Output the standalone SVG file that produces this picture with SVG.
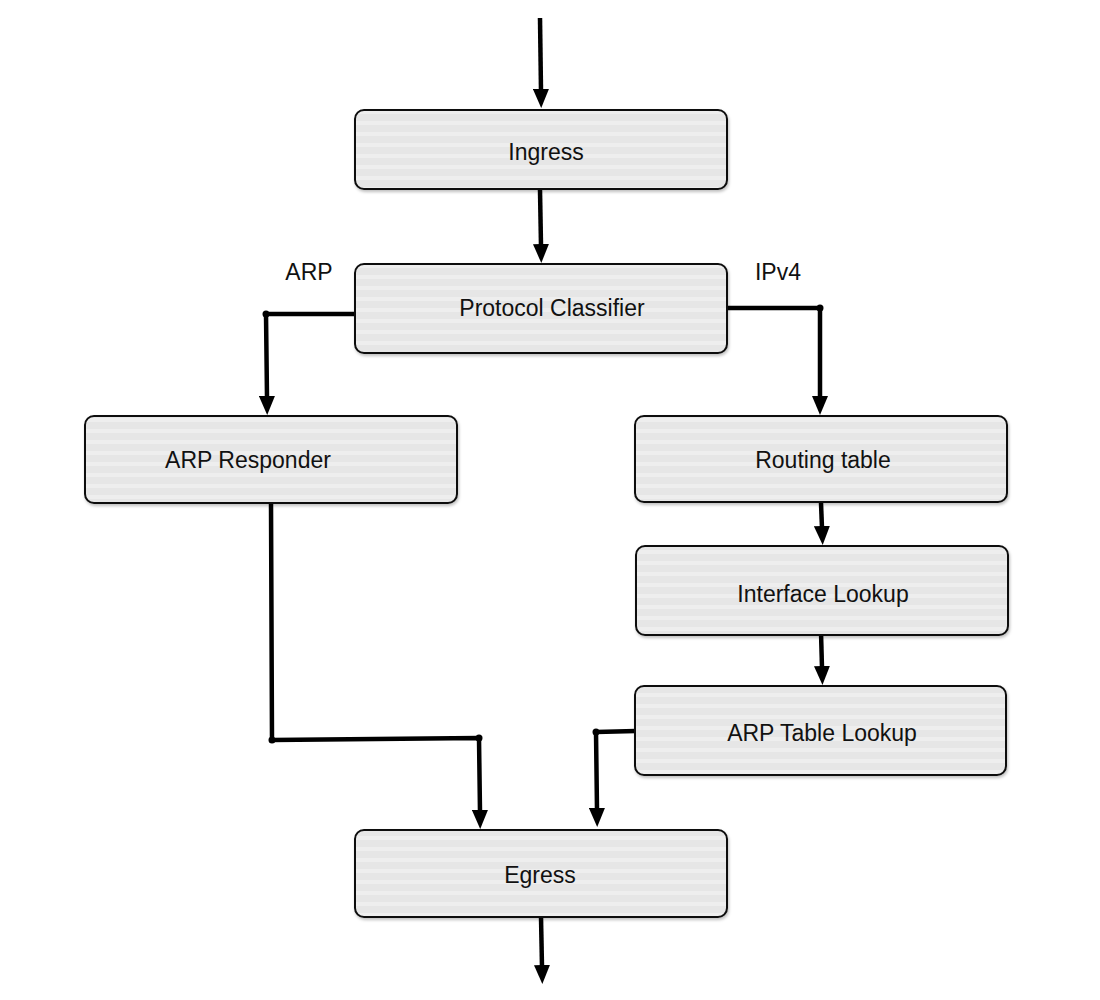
<svg xmlns="http://www.w3.org/2000/svg" width="1100" height="1000" viewBox="0 0 1100 1000">
<style>
.box{fill:url(#stripes);stroke:#111;stroke-width:2;filter:url(#sh)}
.lbl{font-family:"Liberation Sans",Arial,sans-serif;font-size:23px;fill:#111;text-anchor:middle;dominant-baseline:central}
.edge{fill:none;stroke:#000;stroke-width:4.5;stroke-linejoin:round}
.dot{fill:#000}
</style>
<defs>
<pattern id="stripes" patternUnits="userSpaceOnUse" width="40" height="11">
<rect width="40" height="11" fill="#e6e6e6"/>
<rect y="0" width="40" height="4" fill="#eeeeee"/>
</pattern>
<filter id="sh" x="-5%" y="-10%" width="110%" height="130%">
<feDropShadow dx="1" dy="2" stdDeviation="1.5" flood-color="#000" flood-opacity="0.25"/>
</filter>
<marker id="ah" markerWidth="19" markerHeight="16" refX="2" refY="8" orient="auto" markerUnits="userSpaceOnUse" viewBox="0 0 19 16">
<path d="M0,0 L19,8 L0,16 Z" fill="#000"/>
</marker>
</defs>
<rect width="1100" height="1000" fill="#fff"/>
<g id="connectors">
<path class="edge" d="M540,18 L541,91" marker-end="url(#ah)"/>
<path class="edge" d="M540,190 L541,246" marker-end="url(#ah)"/>
<path class="edge" d="M357,314 L266,314 L267,398" marker-end="url(#ah)"/>
<circle class="dot" cx="266" cy="314" r="3.5"/>
<path class="edge" d="M727,308 L820,308 L820,398" marker-end="url(#ah)"/>
<circle class="dot" cx="820" cy="308" r="3.5"/>
<path class="edge" d="M821,503 L822,528" marker-end="url(#ah)"/>
<path class="edge" d="M821,632 L822,668" marker-end="url(#ah)"/>
<path class="edge" d="M271,503 L272,740 L479,738 L480,812" marker-end="url(#ah)"/>
<circle class="dot" cx="272" cy="740" r="3.5"/>
<circle class="dot" cx="479" cy="738" r="3.5"/>
<path class="edge" d="M636,731 L596,732 L597,810" marker-end="url(#ah)"/>
<circle class="dot" cx="596" cy="732" r="3.5"/>
<path class="edge" d="M541,917 L542,967" marker-end="url(#ah)"/>
<text class="lbl" x="309" y="272">ARP</text>
<text class="lbl" x="778" y="272">IPv4</text>
</g>
<g id="ingress">
<rect class="box" x="355" y="110" width="372" height="79" rx="9"/>
<text class="lbl" x="546" y="152">Ingress</text>
</g>
<g id="protocol-classifier">
<rect class="box" x="355" y="264" width="372" height="89" rx="9"/>
<text class="lbl" x="552" y="308">Protocol Classifier</text>
</g>
<g id="arp-responder">
<rect class="box" x="85" y="416" width="372" height="87" rx="9"/>
<text class="lbl" x="248" y="460">ARP Responder</text>
</g>
<g id="routing-table">
<rect class="box" x="635" y="416" width="372" height="86" rx="9"/>
<text class="lbl" x="823" y="460">Routing table</text>
</g>
<g id="interface-lookup">
<rect class="box" x="636" y="546" width="372" height="89" rx="9"/>
<text class="lbl" x="823" y="594">Interface Lookup</text>
</g>
<g id="arp-table-lookup">
<rect class="box" x="635" y="686" width="371" height="89" rx="9"/>
<text class="lbl" x="822" y="733">ARP Table Lookup</text>
</g>
<g id="egress">
<rect class="box" x="355" y="830" width="372" height="87" rx="9"/>
<text class="lbl" x="540" y="875">Egress</text>
</g>
</svg>
